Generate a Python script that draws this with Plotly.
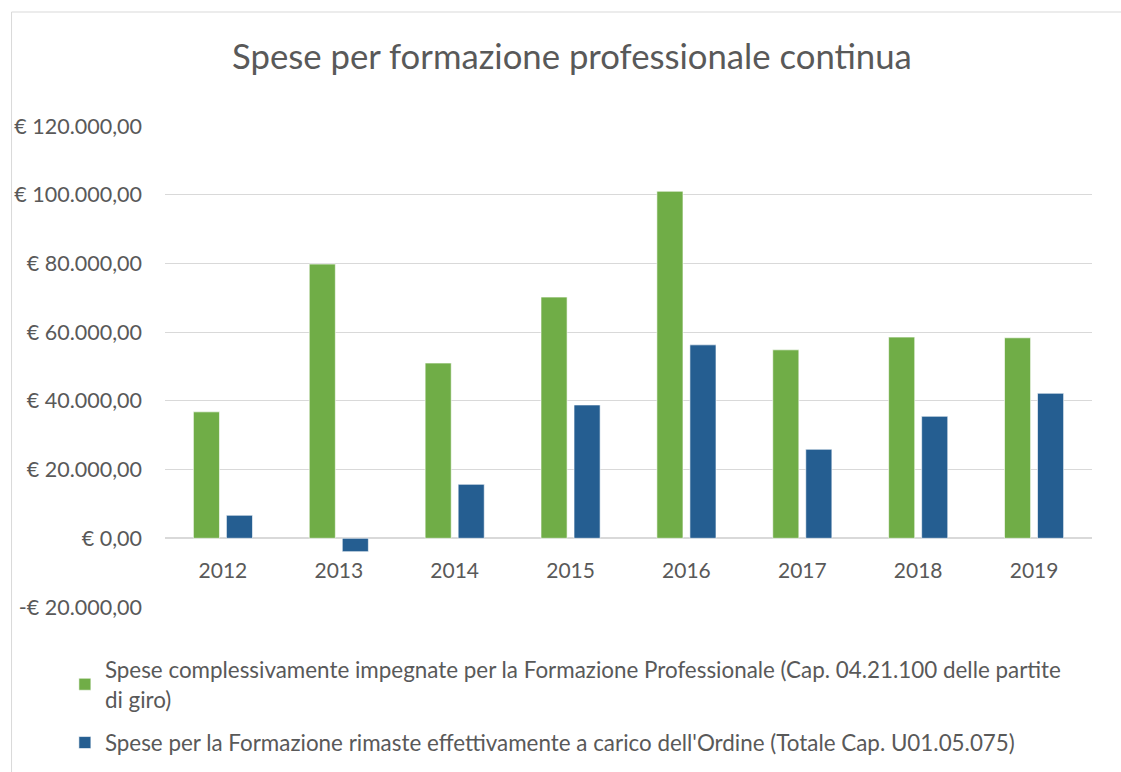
import plotly.graph_objects as go

years = ["2012", "2013", "2014", "2015", "2016", "2017", "2018", "2019"]
spese_impegnate = [36800, 79800, 51000, 70200, 101000, 54850, 58550, 58350]
spese_ordine = [6700, -3900, 15700, 38800, 56300, 25900, 35500, 42200]
series_names = [
    "Spese complessivamente impegnate per la Formazione Professionale (Cap. 04.21.100 delle partite<br>di giro)",
    "Spese per la Formazione rimaste effettivamente a carico dell'Ordine (Totale Cap. U01.05.075)",
]
series_colors = ["#70AD47", "#255E91"]
title_text = "Spese per formazione professionale continua"
y_min, y_max, y_step = -20000, 120000, 20000


def euro(v):
    s = f"{abs(v):,.2f}".replace(",", "X").replace(".", ",").replace("X", ".")
    return ("-€ " if v < 0 else "€ ") + s


tickvals = list(range(y_min, y_max + 1, y_step))
ticktext = [euro(v) for v in tickvals]

FONT = "Lato, Calibri, Carlito, sans-serif"
GREY = "#595959"

fig = go.Figure()
for name, vals, col, lg in zip(series_names, [spese_impegnate, spese_ordine], series_colors, ["legend", "legend2"]):
    fig.add_trace(go.Bar(
        x=years, y=vals, name=name, legend=lg,
        marker=dict(color=col, line=dict(color="rgba(255,255,255,0.6)", width=1)),
    ))

legend_common = dict(x=-0.108, xanchor="left", orientation="v",
                     font=dict(family=FONT, size=22.4, color=GREY),
                     bgcolor="rgba(0,0,0,0)")

fig.update_layout(
    width=1121, height=772,
    margin=dict(l=164.5, r=29.3, t=126, b=165, autoexpand=False),
    paper_bgcolor="white", plot_bgcolor="white",
    font=dict(family=FONT, color=GREY, size=20),
    title=dict(text=title_text, x=0.439, xref="paper", xanchor="center",
               y=1 - 57 / 772, yref="container", yanchor="middle",
               font=dict(family=FONT, size=34.7, color=GREY, weight=400)),
    barmode="group", bargap=0.43, bargroupgap=0.21,
    showlegend=True,
    legend=dict(y=-0.0865, yanchor="top", **legend_common),
    legend2=dict(y=-0.2827, yanchor="middle", **legend_common),
    xaxis=dict(type="category", anchor="free",
               position=(0 - y_min) / (y_max - y_min),
               showline=False, showgrid=False, ticks="",
               ticklabelstandoff=18,
               tickfont=dict(family=FONT, size=21, color=GREY)),
    yaxis=dict(range=[y_min, y_max], tickvals=tickvals, ticktext=ticktext,
               showgrid=True, gridcolor="#D9D9D9", gridwidth=1,
               zeroline=True, zerolinecolor="#D9D9D9", zerolinewidth=1.5,
               showline=False, ticks="", ticklabelstandoff=22,
               tickfont=dict(family=FONT, size=21.5, color=GREY)),
    shapes=[dict(type="rect", xref="paper", yref="paper",
                 x0=(11 - 164.5) / 927.2, x1=1.3,
                 y0=-0.6, y1=(607 - 12) / 481,
                 line=dict(color="#D9D9D9", width=1), layer="below")],
)

fig.write_html("out.html")
